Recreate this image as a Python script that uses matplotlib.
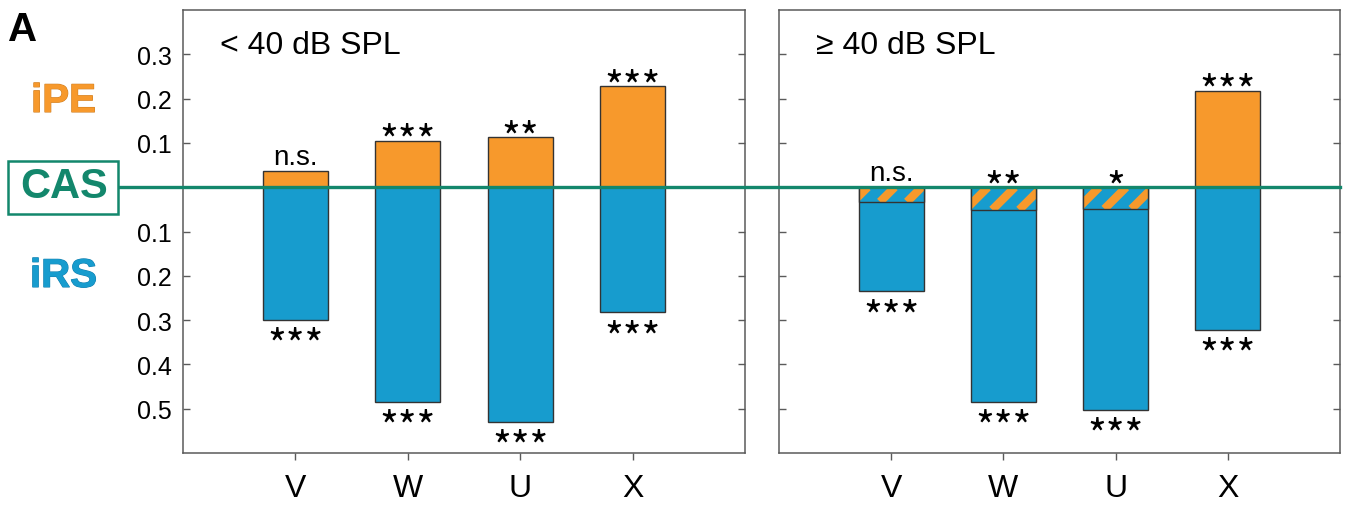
import numpy as np
import matplotlib
matplotlib.use('Agg')
import matplotlib.pyplot as plt
from matplotlib.patches import Rectangle
from matplotlib.lines import Line2D
import matplotlib.transforms as mtransforms
import matplotlib.patheffects as pe

plt.rcParams['font.family'] = ['Liberation Sans', 'DejaVu Sans']

# ---------------- data ----------------
categories = ['V', 'W', 'U', 'X']
ipe_low = [0.037, 0.105, 0.113, 0.228]
irs_low = [0.299, 0.484, 0.529, 0.282]
sig_ipe_low = ['n.s.', '***', '**', '***']
sig_irs_low = ['***', '***', '***', '***']
ipe_high = [-0.033, -0.051, -0.049, 0.218]
irs_high = [0.235, 0.484, 0.502, 0.322]
sig_ipe_high = ['n.s.', '**', '*', '***']
sig_irs_high = ['***', '***', '***', '***']
titles = ['< 40 dB SPL', '\u2265 40 dB SPL']
ytick_vals = [0.3, 0.2, 0.1, -0.1, -0.2, -0.3, -0.4, -0.5]

ORANGE = '#F7992C'
BLUE = '#179CCE'
GREEN = '#13876C'
EDGE = '#333333'
SPINE = '#5a5a5a'
STAR_FONT = ['Noto Sans CJK SC', 'DejaVu Sans']

W, H = 1350, 510
fig = plt.figure(figsize=(13.5, 5.1), dpi=100)


def fx(px):
    return px / W


def fy(py):
    return 1 - py / H


ax1 = fig.add_axes([fx(183), fy(454), fx(745 - 183), (454 - 11) / H])
ax2 = fig.add_axes([fx(779), fy(454), fx(1340 - 779), (454 - 11) / H])

xpos = np.arange(1, len(categories) + 1)
bw = 0.58


def hatch_overlap(ax, x, depth):
    rect = Rectangle((x - bw / 2, 0), bw, -depth, facecolor=BLUE,
                     edgecolor='none', zorder=3)
    ax.add_patch(rect)
    p0 = ax.transData.transform((0, 0))
    p1 = ax.transData.transform((1, 1))
    sx = p1[0] - p0[0]
    sy = p1[1] - p0[1]
    period = 27.0 / sx
    dxh = depth * sy / sx
    for k in range(-4, 6):
        x0 = x - bw / 2 - 0.05 + k * period
        ln, = ax.plot([x0, x0 + dxh], [-depth, 0], color=ORANGE, lw=6,
                      solid_capstyle='butt', zorder=3.5)
        ln.set_clip_path(rect)
    ax.add_patch(Rectangle((x - bw / 2, 0), bw, -depth, facecolor='none',
                           edgecolor=EDGE, lw=1.0, zorder=4))


def label_above(ax, x, y, s):
    if s == 'n.s.':
        ax.annotate(s, (x, y), xytext=(0, 5), textcoords='offset points',
                    ha='center', va='baseline', fontsize=20, color='black',
                    annotation_clip=False, zorder=6)
    else:
        ax.annotate(s, (x, y), xytext=(0, -9.5), textcoords='offset points',
                    ha='center', va='baseline', fontsize=29, color='black',
                    family=STAR_FONT, annotation_clip=False, zorder=6)


def label_below(ax, x, y, s):
    ax.annotate(s, (x, y), xytext=(0, -27.5), textcoords='offset points',
                ha='center', va='baseline', fontsize=29, color='black',
                family=STAR_FONT, annotation_clip=False, zorder=6)


for ax, ipe, irs, sig_t, sig_b, title, show_labels in [
        (ax1, ipe_low, irs_low, sig_ipe_low, sig_irs_low, titles[0], True),
        (ax2, ipe_high, irs_high, sig_ipe_high, sig_irs_high, titles[1], False)]:
    ax.set_xlim(0, 5)
    ax.set_ylim(-0.6, 0.4)
    for i, x in enumerate(xpos):
        ax.bar(x, -irs[i], bw, color=BLUE, edgecolor=EDGE, lw=1.0, zorder=2)
        if ipe[i] > 0:
            ax.bar(x, ipe[i], bw, color=ORANGE, edgecolor=EDGE, lw=1.0, zorder=2)
            top = ipe[i]
        else:
            hatch_overlap(ax, x, -ipe[i])
            top = 0.0
        label_above(ax, x, top, sig_t[i])
        label_below(ax, x, -irs[i], sig_b[i])

    ax.set_xticks(xpos)
    ax.set_xticklabels(categories, fontsize=23)
    ax.set_yticks(ytick_vals)
    if show_labels:
        ax.set_yticklabels(['%.1f' % abs(v) for v in ytick_vals], fontsize=18)
    else:
        ax.set_yticklabels([])
    ax.tick_params(axis='y', direction='in', length=5, width=1.0, color=SPINE,
                   left=True, right=True, pad=8)
    ax.tick_params(axis='x', direction='out', length=5, width=1.0, color=SPINE,
                   top=False, pad=9.5)
    for sp in ax.spines.values():
        sp.set_color(SPINE)
        sp.set_linewidth(1.1)
    ax.text(0.066, 0.955, title, transform=ax.transAxes, fontsize=23,
            ha='left', va='top')

# CAS line across the figure
trans = mtransforms.blended_transform_factory(fig.transFigure, ax1.transData)
fig.add_artist(Line2D([fx(118), fx(1340)], [0, 0], transform=trans,
                      color=GREEN, lw=2.4, zorder=5))

# CAS box
fig.add_artist(Rectangle((fx(7.5), fy(214.5)), fx(110), (214.5 - 162) / H,
                         facecolor='white', edgecolor=GREEN, lw=1.8, zorder=5))
fig.text(fx(64), fy(187), 'CAS', fontsize=30, fontweight='bold', color=GREEN,
         ha='center', va='center', zorder=6)

fig.text(fx(63.5), fy(113), 'iPE', fontsize=29, fontweight='bold', color=ORANGE,
         ha='center', va='baseline',
         path_effects=[pe.withStroke(linewidth=0.8, foreground='#D07F22')])
fig.text(fx(63.5), fy(288), 'iRS', fontsize=29, fontweight='bold', color=BLUE,
         ha='center', va='baseline',
         path_effects=[pe.withStroke(linewidth=0.8, foreground='#1580B0')])

fig.text(fx(8), fy(41), 'A', fontsize=29, fontweight='bold', color='black',
         ha='left', va='baseline')

fig.savefig('out.png', dpi=100)
